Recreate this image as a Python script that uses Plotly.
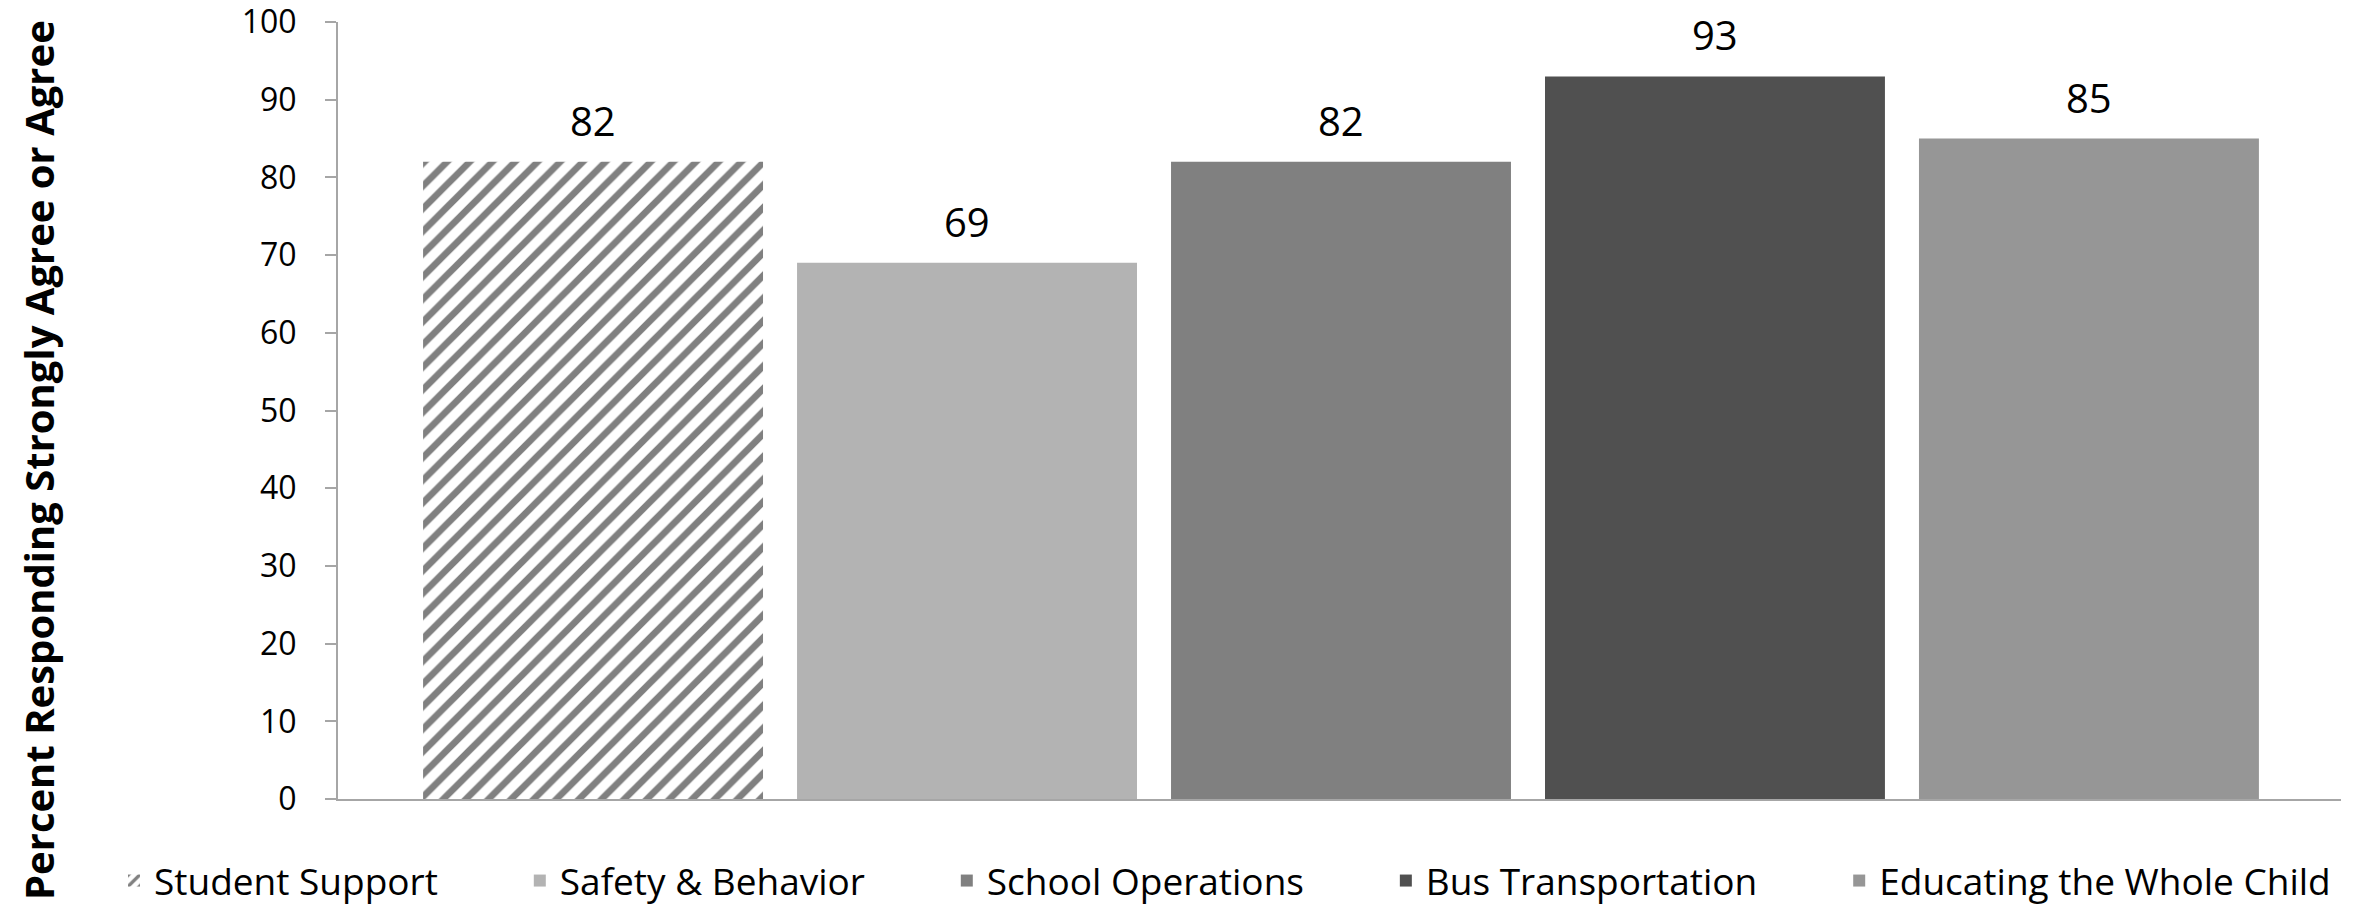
import plotly.graph_objects as go

# Survey domains and the share responding "Strongly Agree" or "Agree"
categories = ["Student Support", "Safety & Behavior", "School Operations",
              "Bus Transportation", "Educating the Whole Child"]
values = [82, 69, 82, 93, 85]
colors = ["#808080", "#B3B3B3", "#808080", "#505050", "#969696"]
hatched = [True, False, False, False, False]
y_ticks = [0, 10, 20, 30, 40, 50, 60, 70, 80, 90, 100]

W, H = 2371, 912
M_L, M_R, M_T, M_B = 338, 30, 22, 113
PW = W - M_L - M_R
PH = H - M_T - M_B

NBSP = "\u00a0"
LEGEND_PAD = NBSP * 8

fig = go.Figure()
for i, (name, val, col, hatch) in enumerate(zip(categories, values, colors, hatched)):
    marker = dict(color=col, line=dict(width=0))
    if hatch:
        marker = dict(
            color="#FFFFFF",
            line=dict(width=0),
            pattern=dict(shape="/", fgcolor=col, bgcolor="#FFFFFF",
                         size=16, solidity=0.42, fillmode="replace"),
        )
    label = name + (LEGEND_PAD if i < len(categories) - 1 else "")
    fig.add_trace(go.Bar(
        x=[name], y=[val], name=label, marker=marker,
        width=0.909, hoverinfo="y+name",
    ))
    fig.add_annotation(
        x=name, y=val, xref="x", yref="y", text=str(val),
        showarrow=False, yanchor="bottom", yshift=12,
        font=dict(family="Open Sans", size=40, color="#000000"),
    )

# Rotated axis title, anchored near the top of the plot
fig.add_annotation(
    x=(38 - M_L) / PW, y=(PH - (18 - M_T)) / PH, xref="paper", yref="paper",
    text="<b>Percent Responding Strongly Agree or Agree</b>",
    textangle=-90, showarrow=False, xanchor="center", yanchor="top",
    font=dict(family="Open Sans", size=40, color="#000000"),
)

fig.update_layout(
    width=W, height=H,
    margin=dict(l=M_L, r=M_R, t=M_T, b=M_B, pad=0, autoexpand=False),
    paper_bgcolor="#FFFFFF", plot_bgcolor="#FFFFFF",
    barmode="overlay",
    showlegend=True,
    legend=dict(
        orientation="h", x=(114 - M_L) / PW, xanchor="left",
        y=-(881 - (M_T + PH)) / PH, yanchor="middle",
        font=dict(family="Open Sans", size=37, color="#000000"),
        bgcolor="rgba(0,0,0,0)", borderwidth=0,
    ),
    font=dict(family="Open Sans", color="#000000"),
)

fig.update_xaxes(
    type="category", categoryorder="array", categoryarray=categories,
    range=[-0.682, 4.674], showticklabels=False, ticks="",
    showline=True, linecolor="#A6A6A6", linewidth=2,
    showgrid=False, zeroline=False, fixedrange=True,
)
fig.update_yaxes(
    range=[0, 100], tickvals=y_ticks, ticktext=[str(t) for t in y_ticks],
    ticks="outside", ticklen=11, tickwidth=2, tickcolor="#A6A6A6",
    ticklabelstandoff=22, ticklabeloverflow="allow",
    showline=True, linecolor="#A6A6A6", linewidth=2,
    showgrid=False, zeroline=False,
    tickfont=dict(family="Open Sans", size=32, color="#000000"),
    fixedrange=True,
)

fig.write_html("out.html")
